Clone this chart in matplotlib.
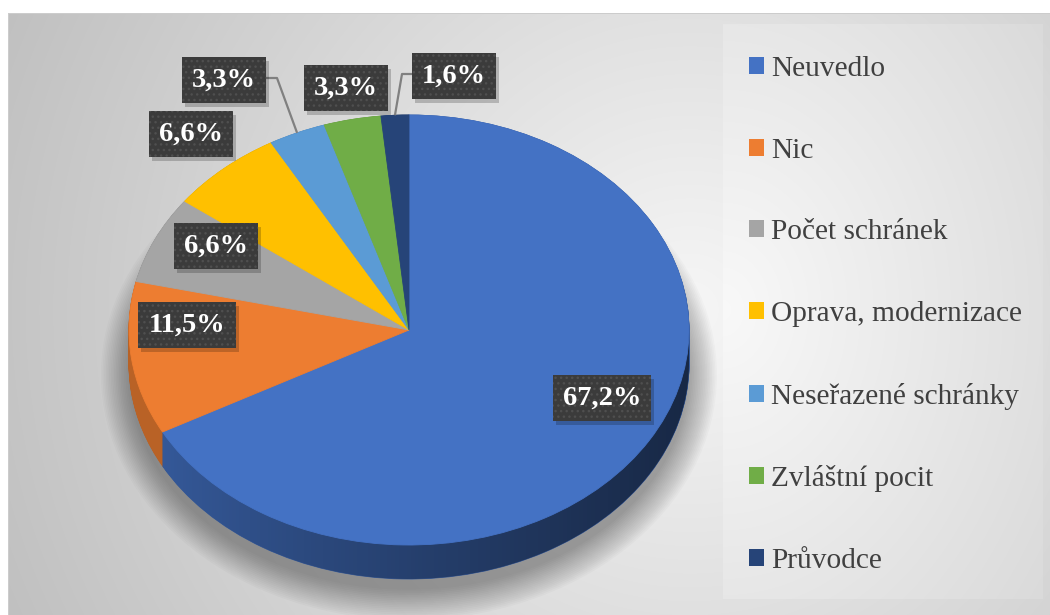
import numpy as np
import matplotlib
matplotlib.use('Agg')
import matplotlib.pyplot as plt
import matplotlib.colors as mcolors
from matplotlib.patches import Ellipse, PathPatch, Rectangle
from matplotlib.path import Path

# ---------------- data ----------------
categories = ['Neuvedlo', 'Nic', 'Počet schránek', 'Oprava, modernizace',
              'Neseřazené schránky', 'Zvláštní pocit', 'Průvodce']
values = [67.2, 11.5, 6.6, 6.6, 3.3, 3.3, 1.6]
colors = ['#4472C4', '#ED7D31', '#A5A5A5', '#FFC000', '#5B9BD5', '#70AD47', '#264478']

# ---------------- layout ----------------
W, H = 1050, 615
CX, CY, RX, RY = 409, 330, 280, 215   # top-face ellipse in pixels
DEPTH = 34                            # 3D thickness in pixels
FONT = 'Liberation Serif'

fig = plt.figure(figsize=(W / 100, H / 100), dpi=100)
ax = fig.add_axes([0, 0, 1, 1])


def D(px, py):
    return ((px - CX) / RX, (CY - py) / RY)


x0 = D(0, 0)[0]
x1 = D(W, 0)[0]
ytop = D(0, 0)[1]
ybot = D(0, H)[1]

# ---------------- background ----------------
yy, xx = np.mgrid[0:H, 0:W] + 0.5
r = np.hypot(xx - 690, yy - 310)
bg = 0.965 - 0.21 * np.clip(r / 740, 0, 1.3)
inleg = (xx >= 723) & (xx <= 1043) & (yy >= 24) & (yy <= 599)
rl = np.hypot(xx - 723, (yy - 310) * 0.8)
bg = np.where(inleg, 0.975 - 0.10 * (rl / 330), bg)
bg[(xx < 8) | (yy < 13)] = 1.0
bg[13:, 8] = 0.80
bg[13, 8:] = 0.80
img = np.dstack([bg] * 3)
ax.imshow(img, extent=(x0, x1, ybot, ytop), origin='upper', aspect='auto',
          zorder=0, interpolation='bilinear')

dep = DEPTH / RY

# soft shadow below the pie
for i in range(18):
    k = i / 17
    ax.add_patch(Ellipse((0.0, -dep - 0.05), 2 * (1.0 + 0.10 * k), 2 * (1.0 + 0.14 * k),
                         facecolor='black', alpha=0.02, lw=0, zorder=1))


def darken(c, f):
    rgb = np.array(mcolors.to_rgb(c))
    return tuple(rgb * f)


side_colors = [darken(c, 0.78) for c in colors]

# side walls (stacked layers)
for d in np.linspace(dep, 0, 45):
    wedges, _ = ax.pie(values, colors=side_colors, startangle=90, counterclock=False,
                       center=(0, -d), radius=1, frame=True,
                       wedgeprops=dict(linewidth=0.6, zorder=2))
    for w in wedges:
        w.set_edgecolor(w.get_facecolor())

# shading gradient on side walls
ang = np.linspace(0, np.pi, 200)
ang2 = np.linspace(np.pi, 2 * np.pi, 200)
verts = np.r_[np.c_[np.cos(ang), np.sin(ang)],
              np.c_[np.cos(ang2), np.sin(ang2) - dep],
              [[1, 0]]]
clip = PathPatch(Path(verts), transform=ax.transData, fc='none', ec='none')
gx = np.linspace(0, 1, 300)
alpha = np.clip((gx - 0.05) / 0.95, 0, 1) ** 0.9 * 0.55
shade = np.zeros((2, 300, 4))
shade[..., 3] = alpha
im = ax.imshow(shade, extent=(-1.0, 1.0, -1 - dep, 0.2), origin='upper',
               aspect='auto', zorder=3, interpolation='bilinear')
im.set_clip_path(clip)

# top face
wedges, _ = ax.pie(values, colors=colors, startangle=90, counterclock=False,
                   center=(0, 0), radius=1, frame=True,
                   wedgeprops=dict(linewidth=0.6, zorder=4))
for w in wedges:
    w.set_edgecolor(w.get_facecolor())

# ---------------- leader lines ----------------
vals = np.array(values)
cum = np.r_[0, np.cumsum(vals)[:-1]]
mid = (cum + vals / 2) / vals.sum()
theta = np.deg2rad(90 - 360 * mid)
anchors = np.c_[np.cos(theta), np.sin(theta)]

leader_px = {4: [(265, 78), (277, 78)], 6: [(413, 74), (402, 74)]}
for idx, pts in leader_px.items():
    p = np.array([D(*q) for q in pts] + [tuple(anchors[idx])])
    ax.plot(p[:, 0], p[:, 1], color='#808080', lw=1.6, zorder=5, solid_capstyle='butt')

# ---------------- data labels ----------------
label_px = [(602, 398), (187, 325), (216, 246), (191, 134), (224, 80), (346, 88), (454, 76)]
LFS = 20.5
label_texts = []
for v, (px, py) in zip(values, label_px):
    s = f"{v:.1f}".replace('.', ',') + '%'
    dx, dy = D(px, py)
    t = ax.text(dx, dy, s, ha='center', va='center', fontsize=LFS, fontweight='bold',
                family=FONT, color='white', zorder=6,
                bbox=dict(boxstyle='square,pad=0.36', fc='#3b3b3b', ec='#4f4f4f', lw=0,
                          hatch='...'))
    label_texts.append(t)

# ---------------- legend ----------------
handles = [Rectangle((0, 0), 1, 1, facecolor=c, edgecolor='none') for c in colors]
leg = ax.legend(handles, categories, loc='upper left',
                bbox_to_anchor=(749 / W, 1 - 56 / H), bbox_transform=fig.transFigure,
                frameon=False, prop=dict(family=FONT, size=21.2), labelcolor='#404040',
                handlelength=0.5, handleheight=0.5, handletextpad=0.25,
                labelspacing=1.89, borderpad=0, borderaxespad=0)
leg.set_zorder(7)

ax.set_xlim(x0, x1)
ax.set_ylim(ybot, ytop)
ax.set_aspect('auto')
ax.axis('off')

# drop shadows behind label boxes
fig.canvas.draw()
for t in label_texts:
    bb = t.get_bbox_patch().get_window_extent()
    shadow = Rectangle((bb.x0 + 3, bb.y0 - 4), bb.width, bb.height, transform=None,
                       facecolor='black', alpha=0.2, lw=0, zorder=5.5)
    ax.add_artist(shadow)

fig.savefig('out.png', dpi=100)
